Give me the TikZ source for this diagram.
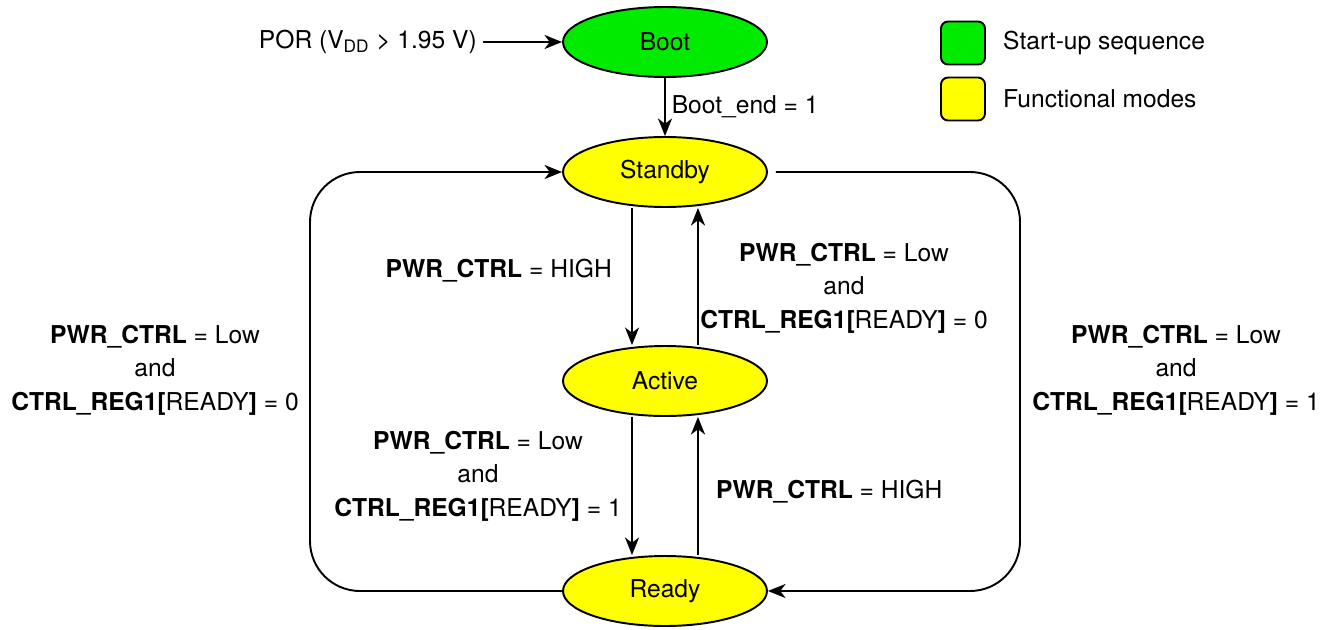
\documentclass[tikz,border=0pt]{standalone}
\usepackage{fontspec}
\setmainfont{TeX Gyre Heros}
\usetikzlibrary{arrows.meta,shapes.geometric}

\definecolor{bootgreen}{RGB}{0,235,0}
\definecolor{modeyellow}{RGB}{255,255,0}

\begin{document}
\begin{tikzpicture}[x=0.02cm,y=-0.02cm,
    every node/.style={font=\fontsize{14}{19}\selectfont},
    state/.style={ellipse,draw,line width=1.1pt,minimum width=4.08cm,minimum height=1.4cm,inner sep=0pt},
    trans/.style={line width=1.1pt,-{Stealth[length=10pt,width=8pt,inset=3pt]}},
    keybox/.style={draw,line width=1.1pt,rounded corners=4pt,minimum width=0.88cm,minimum height=0.86cm,inner sep=0pt},
    cond/.style={align=center}]
    \useasboundingbox (0,0) rectangle (1328,629);

    % Set the offset of the vertical arrows
    \pgfmathsetlengthmacro{\arrowoffset}{0.66cm}

    % Draw the states
    \node[state,fill=bootgreen] (boot) at (665,42) {Boot};
    \node[state,fill=modeyellow] (standby) at (665,172) {Standby};
    \node[state,fill=modeyellow] (active) at (665,381) {Active};
    \node[state,fill=modeyellow] (ready) at (665,591) {Ready};

    % Power-on reset
    \node[anchor=east] (por) at (483,42) {POR (V\textsubscript{DD} > 1.95 V)};
    \draw[trans] (por) -- (boot);
    \draw[trans] (boot) -- node[right] {Boot\_end = 1} (standby);

    % Draw the vertical transitions
    \draw[trans] ([xshift=-\arrowoffset]standby.south) -- ([xshift=-\arrowoffset]active.north);
    \draw[trans] ([xshift=\arrowoffset]active.north) -- ([xshift=\arrowoffset]standby.south);
    \draw[trans] ([xshift=-\arrowoffset]active.south) -- ([xshift=-\arrowoffset]ready.north);
    \draw[trans] ([xshift=\arrowoffset]ready.north) -- ([xshift=\arrowoffset]active.south);

    % Draw the outer loops
    \draw[trans,rounded corners=1cm] (ready.west) -- (310,591) -- (310,172) -- (standby.west);
    \draw[trans,rounded corners=1cm] ([xshift=0.16cm]standby.east) -- (1020,172) -- (1020,591) -- (ready.east);

    % Add the conditions
    \node[anchor=east] (tohigh) at (618,271) {\textbf{PWR\_CTRL} = HIGH};
    \node[cond] (tostandby) at (844,288) {\textbf{PWR\_CTRL} = Low\\and\\\textbf{CTRL\_REG1[}READY\textbf{]} = 0};
    \node[cond] (toready) at (478,476) {\textbf{PWR\_CTRL} = Low\\and\\\textbf{CTRL\_REG1[}READY\textbf{]} = 1};
    \node[anchor=west] (toactive) at (710,492) {\textbf{PWR\_CTRL} = HIGH};
    \node[cond] (loopleft) at (155,370) {\textbf{PWR\_CTRL} = Low\\and\\\textbf{CTRL\_REG1[}READY\textbf{]} = 0};
    \node[cond] (loopright) at (1176,370) {\textbf{PWR\_CTRL} = Low\\and\\\textbf{CTRL\_REG1[}READY\textbf{]} = 1};

    % Add the legend
    \node[keybox,fill=bootgreen] (startkey) at (963,43) {};
    \node[anchor=west] at (997,43) {Start-up sequence};
    \node[keybox,fill=modeyellow] (modekey) at (963,99) {};
    \node[anchor=west] at (997,99) {Functional modes};
\end{tikzpicture}
\end{document}
